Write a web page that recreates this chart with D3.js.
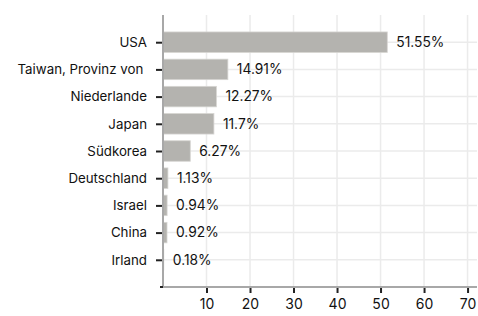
<!DOCTYPE html>
<html>
<head>
<meta charset="utf-8">
<script src="https://cdn.jsdelivr.net/npm/d3@7"></script>
<style>
body { margin: 0; background: #fff; }
svg { font-family: Inter, "Noto Sans", sans-serif; }
</style>
</head>
<body>
<svg id="barchart"></svg>
<script>
var countries = ["USA", "Taiwan, Provinz von ", "Niederlande", "Japan", "Südkorea", "Deutschland", "Israel", "China", "Irland"]
var shares = [51.55, 14.91, 12.27, 11.7, 6.27, 1.13, 0.94, 0.92, 0.18]
var shareLabels = ["51.55%", "14.91%", "12.27%", "11.7%", "6.27%", "1.13%", "0.94%", "0.92%", "0.18%"]
var xTicks = [10, 20, 30, 40, 50, 60, 70]

var dimensions = {
    width: 478,
    height: 316,
    margin: {
        top: 15,
        bottom: 29,
        left: 163,
        right: 1
    }
}

var dataset = countries.map(function(c, i) {
    return {country: c, value: shares[i], label: shareLabels[i]}
})

var svg = d3.select("#barchart")
            .attr("width", dimensions.width)
            .attr("height", dimensions.height)

var xScale = d3.scaleLinear()
                .domain([0, d3.max(shares) * 1.4])
                .range([dimensions.margin.left, dimensions.width - dimensions.margin.right])

var yScale = d3.scalePoint()
                .domain(countries)
                .range([dimensions.margin.top, dimensions.height - dimensions.margin.bottom])
                .padding(1)

var bottom = dimensions.height - dimensions.margin.bottom
var barHeight = 20.5

// grid
svg.append("g")
    .selectAll("line")
    .data(xTicks)
    .join("line")
    .attr("x1", d => xScale(d))
    .attr("x2", d => xScale(d))
    .attr("y1", dimensions.margin.top)
    .attr("y2", bottom)
    .attr("stroke", "#ebebeb")
    .attr("stroke-width", 1.5)

svg.append("g")
    .selectAll("line")
    .data(countries)
    .join("line")
    .attr("x1", dimensions.margin.left)
    .attr("x2", dimensions.width - dimensions.margin.right)
    .attr("y1", d => yScale(d))
    .attr("y2", d => yScale(d))
    .attr("stroke", "#ebebeb")
    .attr("stroke-width", 1.5)

// bars
svg.append("g")
    .selectAll("rect")
    .data(dataset)
    .join("rect")
    .attr("x", xScale(0))
    .attr("y", d => yScale(d.country) - barHeight / 2)
    .attr("width", d => xScale(d.value) - xScale(0))
    .attr("height", barHeight)
    .attr("fill", "#b4b3af")
    .attr("stroke", "#d6d5d2")
    .attr("stroke-width", 0.8)

svg.append("g")
    .selectAll("text")
    .data(dataset)
    .join("text")
    .attr("x", d => xScale(d.value) + 9)
    .attr("y", d => yScale(d.country))
    .attr("dy", "0.35em")
    .attr("font-size", 13.8)
    .attr("fill", "#111")
    .text(d => d.label)

// axes
var xAxisGen = d3.axisBottom(xScale).tickValues(xTicks).tickSize(6).tickPadding(6)
var xAxis = svg.append("g")
                .attr("transform", `translate(0,${bottom})`)
                .call(xAxisGen)
xAxis.select(".domain").remove()
xAxis.selectAll(".tick line").attr("stroke", "#222").attr("stroke-width", 2)
xAxis.selectAll("text").attr("font-size", 14).attr("fill", "#111").attr("font-family", "Inter, sans-serif")

var yAxisGen = d3.axisLeft(yScale).tickSize(6).tickPadding(9)
var yAxis = svg.append("g")
                .attr("transform", `translate(${dimensions.margin.left - 1},0)`)
                .call(yAxisGen)
yAxis.select(".domain").remove()
yAxis.selectAll(".tick line").attr("stroke", "#222").attr("stroke-width", 2)
yAxis.selectAll("text")
    .attr("font-size", 13.3)
    .attr("fill", "#111")
    .attr("font-family", "Inter, sans-serif")
    .style("white-space", "pre")

svg.append("line")
    .attr("x1", xScale(0))
    .attr("x2", xScale(0))
    .attr("y1", dimensions.margin.top)
    .attr("y2", bottom)
    .attr("stroke", "#a8a8a8")
    .attr("stroke-width", 2)

svg.append("line")
    .attr("x1", xScale(0))
    .attr("x2", dimensions.width - dimensions.margin.right)
    .attr("y1", bottom)
    .attr("y2", bottom)
    .attr("stroke", "#a8a8a8")
    .attr("stroke-width", 2)

svg.append("line")
    .attr("x1", xScale(0) - 3)
    .attr("x2", xScale(0))
    .attr("y1", bottom)
    .attr("y2", bottom)
    .attr("stroke", "#222")
    .attr("stroke-width", 2)
</script>
</body>
</html>
